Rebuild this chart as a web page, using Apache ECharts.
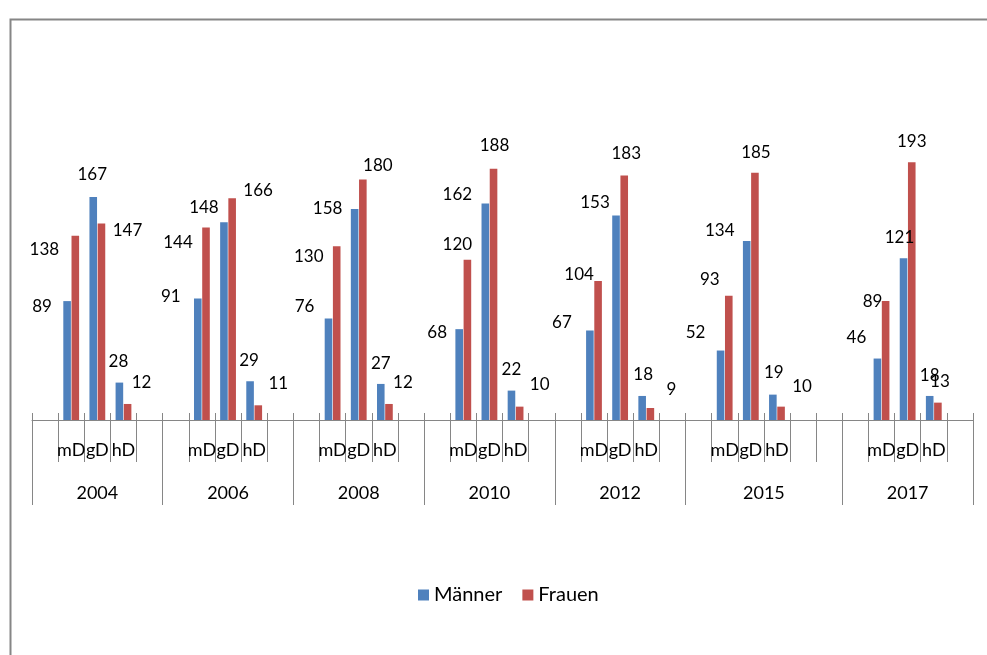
<!DOCTYPE html>
<html>
<head>
<meta charset="utf-8">
<script src="https://cdn.jsdelivr.net/npm/echarts@6/dist/echarts.min.js"></script>
<style>
  html, body { margin: 0; padding: 0; background: #fff; }
  #chart { width: 987px; height: 655px; }
</style>
</head>
<body>
<div id="chart"></div>
<script>
// Survey years (outer category level) and how many category slots each year occupies
const years = ['2004', '2006', '2008', '2010', '2012', '2015', '2017'];
const slotsPerYear = [5, 5, 5, 5, 5, 6, 5];
// Inner category level
const subLabels = ['mD', 'gD', 'hD'];

// Values per year in the order mD, gD, hD
const maenner = [89, 167, 28, 91, 148, 29, 76, 158, 27, 68, 162, 22, 67, 153, 18, 52, 134, 19, 46, 121, 18];
const frauen = [138, 147, 12, 144, 166, 11, 130, 180, 12, 120, 188, 10, 104, 183, 9, 93, 185, 10, 89, 193, 13];

// Hand-placed data label nudges [dx, dy] relative to the top centre of each bar
const maennerLabelOffset = [
  [-25, 5], [-1, -22], [-1, -21],
  [-27, -2], [-20, -15], [-1, -21],
  [-24, -12], [-27, 0], [0, -20],
  [-22, 3], [-28, -9], [0, -21],
  [-28, -8], [-21, -13], [1, -21],
  [-25, -18], [-27, -10], [1, -22],
  [-21, -21], [-4, -21], [0, -20]
];
const frauenLabelOffset = [
  [-31, 14], [26, 7], [14, -21],
  [-28, 15], [26, -8], [20, -22],
  [-28, 10], [15, -14], [14, -21],
  [-10, -15], [1, -23], [20, -22],
  [-19, -7], [2, -22], [21, -18],
  [-19, -16], [1, -20], [21, -20],
  [-13, 0], [0, -21], [2, -21]
];

const FONT = 'Lato';
const GREY = '#868686';

// Build the flat category list (blank slots pad each year) and the bar data
const categories = [];
const maennerData = [];
const frauenData = [];
const yearBounds = [0];
const yearCentres = [];
let vi = 0;
years.forEach((y, yi) => {
  const start = categories.length;
  for (let s = 0; s < slotsPerYear[yi]; s++) {
    const sub = (s >= 1 && s <= subLabels.length) ? subLabels[s - 1] : '';
    categories.push(sub);
    if (sub) {
      maennerData.push({ value: maenner[vi], label: { offset: maennerLabelOffset[vi] } });
      frauenData.push({ value: frauen[vi], label: { offset: frauenLabelOffset[vi] } });
      vi++;
    } else {
      maennerData.push('-');
      frauenData.push('-');
    }
  }
  const end = categories.length;
  yearBounds.push(end);
  yearCentres.push((start + end) / 2);
});
const totalSlots = categories.length;
const allBounds = Array.from({ length: totalSlots + 1 }, (_, i) => i);

const chart = echarts.init(document.getElementById('chart'), null, { renderer: 'canvas' });

const barLabel = {
  show: true,
  position: 'top',
  distance: 0,
  align: 'center',
  verticalAlign: 'middle',
  fontFamily: FONT,
  fontSize: 17,
  color: '#000'
};

chart.setOption({
  animation: false,
  backgroundColor: '#fff',
  textStyle: { fontFamily: FONT },
  graphic: [{
    type: 'rect',
    left: 8,
    top: 17,
    shape: { width: 1000, height: 700 },
    style: { fill: 'none', stroke: GREY, lineWidth: 2 },
    silent: true
  }],
  legend: {
    left: 413,
    top: 580,
    icon: 'rect',
    itemWidth: 11,
    itemHeight: 11,
    itemGap: 20,
    textStyle: { fontFamily: FONT, fontSize: 20, color: '#000' },
    data: ['Männer', 'Frauen']
  },
  grid: { left: 32, right: 14, top: 86, bottom: 235, containLabel: false },
  xAxis: [
    {
      // inner level: mD / gD / hD
      type: 'category',
      data: categories,
      position: 'bottom',
      boundaryGap: true,
      axisLine: { show: true, lineStyle: { color: GREY, width: 1 } },
      axisTick: { show: true, interval: 0, length: 42, lineStyle: { color: GREY } },
      axisLabel: { interval: 0, margin: 21, fontFamily: FONT, fontSize: 18, color: '#000' },
      splitLine: { show: false }
    },
    {
      // outer level: survey years
      type: 'value',
      min: 0,
      max: totalSlots,
      position: 'bottom',
      axisLine: { show: false },
      axisTick: { show: true, length: 85, customValues: yearBounds, lineStyle: { color: GREY } },
      axisLabel: {
        show: true,
        margin: 64,
        customValues: yearCentres,
        fontFamily: FONT,
        fontSize: 18,
        color: '#000',
        formatter: v => {
          const i = yearCentres.findIndex(c => Math.abs(c - v) < 1e-6);
          return i >= 0 ? years[i] : '';
        }
      },
      splitLine: { show: false }
    },
    {
      // short tick marks above the axis line
      type: 'value',
      min: 0,
      max: totalSlots,
      position: 'bottom',
      axisLine: { show: false },
      axisTick: { show: true, inside: true, length: 7, customValues: allBounds, lineStyle: { color: GREY } },
      axisLabel: { show: false },
      splitLine: { show: false }
    }
  ],
  yAxis: {
    type: 'value',
    min: 0,
    max: 250,
    show: false,
    splitLine: { show: false }
  },
  series: [
    {
      name: 'Männer',
      type: 'bar',
      xAxisIndex: 0,
      barWidth: 7.6,
      barGap: '8%',
      itemStyle: { color: '#4F81BD' },
      label: barLabel,
      data: maennerData
    },
    {
      name: 'Frauen',
      type: 'bar',
      xAxisIndex: 0,
      barWidth: 7.6,
      barGap: '8%',
      itemStyle: { color: '#C0504D' },
      label: barLabel,
      data: frauenData
    }
  ]
});
</script>
</body>
</html>
